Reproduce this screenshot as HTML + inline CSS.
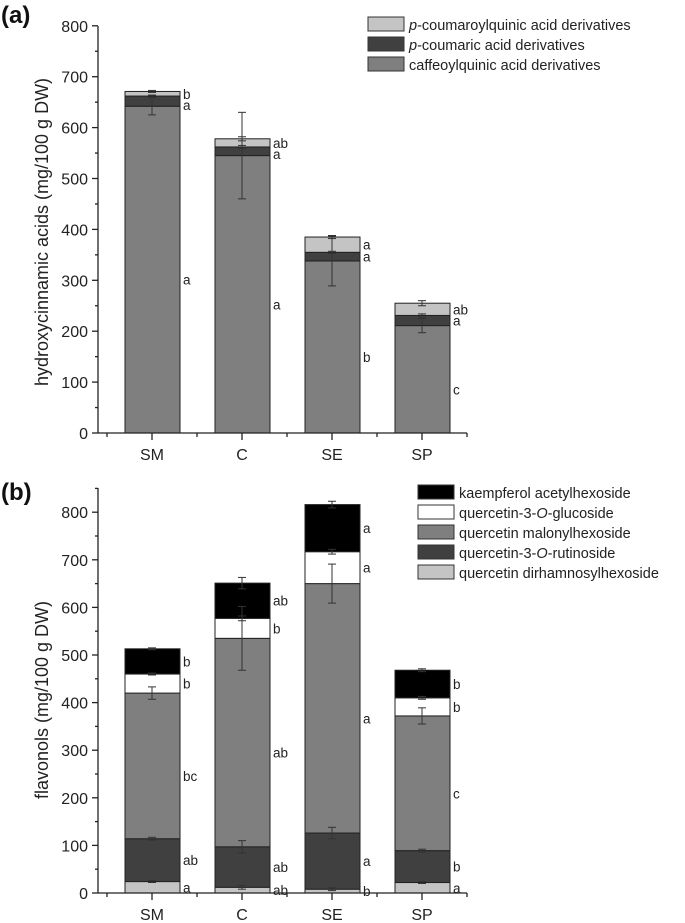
<!DOCTYPE html>
<html><head><meta charset="utf-8"><style>
body{margin:0;background:#fff;}
svg{display:block;font-family:"Liberation Sans",Arial,sans-serif;}
</style></head><body>
<svg id="s" width="685" height="923" viewBox="0 0 685 923"></svg>
<script>
const categories=["SM","C","SE","SP"];
// chart a series (stack bottom->top)
const aCaffeoyl=[642,545,338,211];
const aCoumaric=[20,17,17,20];
const aCoumaroyl=[9,16,30,24];
const aCaffeoylErr=[17,85,49,14];
const aCoumaricErr=[2,3,2,3];
const aCoumaroylErr=[2,4,3,5];
const aLetters=[["a","a","b"],["a","a","ab"],["b","a","a"],["c","a","ab"]];
const aTicks=[0,100,200,300,400,500,600,700,800];
// chart b series (stack bottom->top)
const bDirham=[24,12,8,22];
const bRutin=[90,85,118,67];
const bMalonyl=[306,438,524,283];
const bGlucoside=[40,42,67,38];
const bKaempferol=[53,74,99,58];
const bDirhamErr=[2,4,3,2];
const bRutinErr=[3,13,12,3];
const bMalonylErr=[13,67,41,17];
const bGlucosideErr=[2,5,5,3];
const bKaempferolErr=[2,12,7,3];
const bLetters=[["a","ab","bc","b","b"],["ab","ab","ab","b","ab"],["b","a","a","a","a"],["a","b","c","b","b"]];
const bTicks=[0,100,200,300,400,500,600,700,800];

const NS="http://www.w3.org/2000/svg";
const svg=document.getElementById('s');
function el(tag,attrs,parent,text){const e=document.createElementNS(NS,tag);for(const k in attrs)e.setAttribute(k,attrs[k]);if(text!==undefined)e.textContent=text;(parent||svg).appendChild(e);return e;}

function chart(cfg){
  const g=el('g',{});
  
  
  const y=v=>cfg.y0-(v/100)*cfg.pxPer100;
  const x=i=>152+i*90;
  categories.forEach((c,i)=>{
    let base=0;const tops=[];
    cfg.series.forEach((s,k)=>{
      const v=s[i];
      const r=el('rect',{x:x(i)-27,y:y(base+v),width:55,height:y(base)-y(base+v),fill:cfg.colors[k],stroke:'#222','stroke-width':1},g);
      
      
      tops.push([base,base+v]);base+=v;
    });
    cfg.series.forEach((s,k)=>{
      const top=tops[k][1],e=cfg.errs[k][i];
      const eb=el('g',{stroke:'#333','stroke-width':1},g);
      
      
      el('line',{x1:x(i),x2:x(i),y1:y(top-e),y2:y(top+e)},eb);
      el('line',{x1:x(i)-4,x2:x(i)+4,y1:y(top-e),y2:y(top-e)},eb);
      el('line',{x1:x(i)-4,x2:x(i)+4,y1:y(top+e),y2:y(top+e)},eb);
    });
    let prev=-1e9;const pos=[];
    for(let k=cfg.series.length-1;k>=0;k--){
      const h=y(tops[k][0])-y(tops[k][1]);
      let py=(y(tops[k][0])+y(tops[k][1]))/2+5+(h>100?10:0);
      if(py<prev+11)py=prev+11;prev=py;pos[k]=py;
    }
    cfg.series.forEach((s,k)=>{
      const t=el('text',{x:x(i)+31,y:pos[k],'font-size':13.5,fill:'#222'},g,cfg.letters[i][k]);
      
      
    });
  });
  const ax=el('g',{stroke:'#222','stroke-width':1.3,fill:'none'},g);
  
  
  el('line',{x1:98,x2:98,y1:cfg.yTop,y2:cfg.y0},ax);
  el('line',{x1:98,x2:467,y1:cfg.y0,y2:cfg.y0},ax);
  cfg.ticks.forEach((t,j)=>{
    el('line',{x1:92,x2:98,y1:y(t),y2:y(t)},ax);
    if(j<cfg.ticks.length-1||cfg.yTop<y(t)-15)el('line',{x1:95,x2:98,y1:y(t+50),y2:y(t+50)},ax);
    const tl=el('text',{x:88,y:y(t)+6,'font-size':16,'text-anchor':'end',fill:'#222',stroke:'none'},g,t);
    
    
  });
  [107,197,287,377,467].forEach(px=>el('line',{x1:px,x2:px,y1:cfg.y0,y2:cfg.y0+4},ax));
  categories.forEach((c,i)=>{
    el('line',{x1:x(i),x2:x(i),y1:cfg.y0,y2:cfg.y0+7},ax);
    const tl=el('text',{x:x(i),y:cfg.y0+27,'font-size':16,'text-anchor':'middle',fill:'#222'},g,c);
    
    
  });
  const yt=el('text',{x:0,y:0,'font-size':18,'text-anchor':'middle',fill:'#222',transform:`translate(48,${cfg.titleY}) rotate(-90)`},g,cfg.title);
  
  
  const pl=el('text',{x:1,y:cfg.panelY,'font-size':24,'font-weight':'bold',fill:'#111'},g,cfg.panel);
  
  
  const lg=el('g',{},g);
  
  
  cfg.legend.forEach((L,j)=>{
    const ly=cfg.legY+j*cfg.legStep;
    el('rect',{x:cfg.legX,y:ly,width:36,height:14,fill:cfg.colors[L.k],stroke:'#333'},lg);
    const t=el('text',{x:cfg.legX+41,y:ly+13,'font-size':14.5,fill:'#222'},lg);
    
    
    L.parts.forEach(p=>{el('tspan',p[1]?{'font-style':'italic'}:{},t,p[0]);});
  });
}
chart({name:'chart-a-hydroxycinnamic',y0:433,yTop:26,pxPer100:50.9,series:[aCaffeoyl,aCoumaric,aCoumaroyl],errs:[aCaffeoylErr,aCoumaricErr,aCoumaroylErr],
 colors:['#7f7f7f','#404040','#c4c4c4'],keys:['caffeoylquinic','p-coumaric','p-coumaroylquinic'],letters:aLetters,ticks:aTicks,
 title:'hydroxycinnamic acids (mg/100 g DW)',titleY:232,panel:'(a)',panelY:23,legX:368,legY:17,legStep:20,
 legend:[{k:2,parts:[['p',1],['-coumaroylquinic acid derivatives',0]]},{k:1,parts:[['p',1],['-coumaric acid derivatives',0]]},{k:0,parts:[['caffeoylquinic acid derivatives',0]]}]});
chart({name:'chart-b-flavonols',y0:893,yTop:488,pxPer100:47.6,series:[bDirham,bRutin,bMalonyl,bGlucoside,bKaempferol],errs:[bDirhamErr,bRutinErr,bMalonylErr,bGlucosideErr,bKaempferolErr],
 colors:['#c4c4c4','#404040','#7f7f7f','#ffffff','#000000'],keys:['dirhamnosylhexoside','rutinoside','malonylhexoside','glucoside','kaempferol'],letters:bLetters,ticks:bTicks,
 title:'flavonols (mg/100 g DW)',titleY:700,panel:'(b)',panelY:500,legX:418,legY:485,legStep:20,
 legend:[{k:4,parts:[['kaempferol acetylhexoside',0]]},{k:3,parts:[['quercetin-3-',0],['O',1],['-glucoside',0]]},{k:2,parts:[['quercetin malonylhexoside',0]]},{k:1,parts:[['quercetin-3-',0],['O',1],['-rutinoside',0]]},{k:0,parts:[['quercetin dirhamnosylhexoside',0]]}]});
</script>
</body></html>
